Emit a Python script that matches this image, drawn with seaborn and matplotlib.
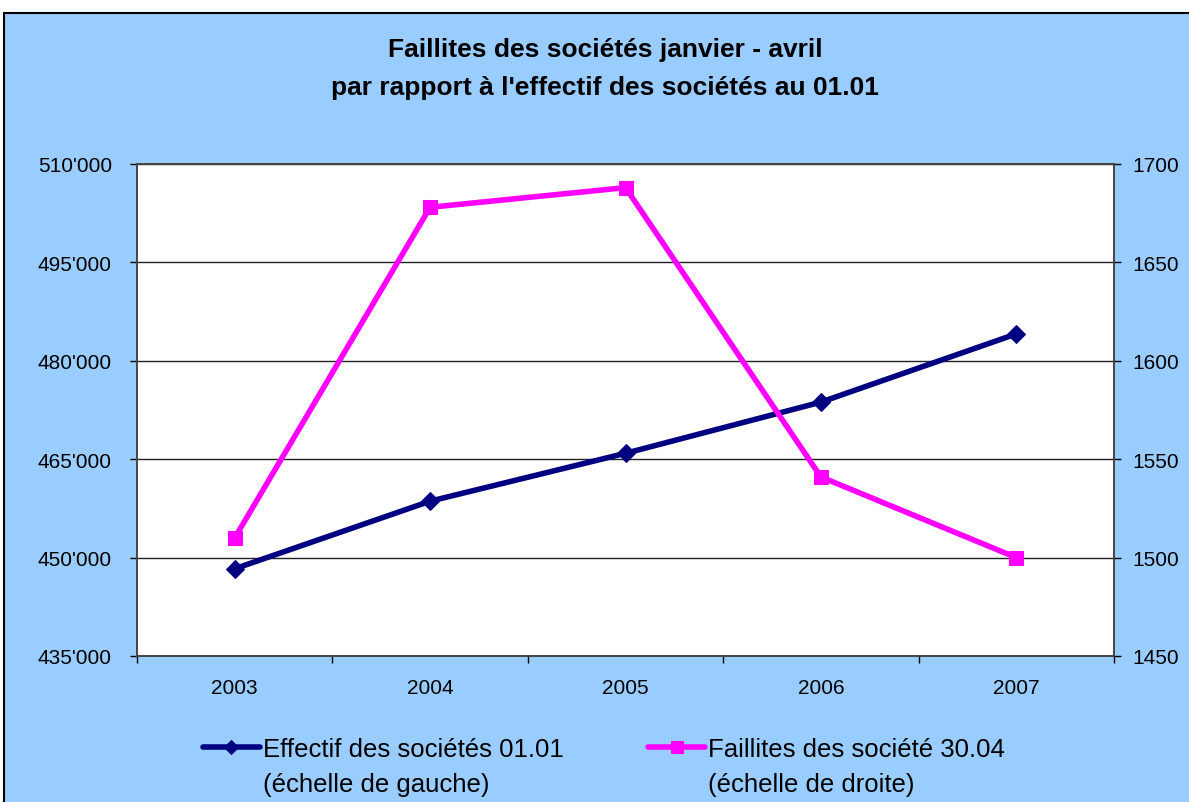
import pandas as pd
import matplotlib.pyplot as plt
import seaborn as sns
from matplotlib.patches import Rectangle
from matplotlib.ticker import FuncFormatter, FixedLocator

years = ["2003", "2004", "2005", "2006", "2007"]
effectif = [448300, 458600, 465900, 473700, 484100]
faillites = [1510, 1678, 1688, 1541, 1500]
labels_l1 = ["Effectif des sociétés 01.01", "Faillites des société 30.04"]
labels_l2 = ["(échelle de gauche)", "(échelle de droite)"]

df = pd.DataFrame({"annee": years, "effectif": effectif, "faillites": faillites})

sns.set_style("white")
plt.rcParams['font.family'] = ['Liberation Sans', 'DejaVu Sans']
plt.rcParams['text.color'] = 'black'
plt.rcParams['xtick.color'] = 'black'
plt.rcParams['ytick.color'] = 'black'

fig = plt.figure(figsize=(11.89, 8.03), dpi=100)
fig.patch.set_facecolor("white")
# blue panel behind everything, with black frame
fig.patches.append(Rectangle((4 / 1189, -0.01), 1.0, 1 - 14 / 803 + 0.01,
                             transform=fig.transFigure, facecolor="#99CCFF",
                             edgecolor="black", linewidth=1.5, zorder=-10))

ax = fig.add_axes([137 / 1189, 1 - 657 / 803, 977 / 1189, 492 / 803])
ax.set_facecolor("white")
x = list(range(len(years)))
df["x"] = x

sns.lineplot(data=df, x="x", y="effectif", ax=ax, color="#000080", linewidth=4,
             marker="D", markersize=9, markeredgecolor="#000080",
             label=labels_l1[0], legend=False)
ax2 = ax.twinx()
sns.lineplot(data=df, x="x", y="faillites", ax=ax2, color="#FF00FF", linewidth=4,
             marker="s", markersize=10, markeredgecolor="#FF00FF",
             label=labels_l1[1], legend=False)

ax.set_xlim(-0.5, 4.5)
ax.set_ylim(435000, 510000)
ax2.set_ylim(1450, 1700)
ax.set_yticks(range(435000, 510001, 15000))
ax2.set_yticks(range(1450, 1701, 50))
ax.yaxis.set_major_formatter(FuncFormatter(lambda v, p: f"{int(v):,}".replace(",", "'")))
ax.set_xticks(x)
ax.set_xticklabels(years)
ax.xaxis.set_minor_locator(FixedLocator([i - 0.5 for i in range(6)]))
ax.tick_params(axis="x", which="major", length=0, labelsize=15, pad=16)
ax.tick_params(axis="x", which="minor", length=5, width=1, direction="out", bottom=True)
ax.tick_params(axis="y", length=5, width=1, direction="out", left=True, labelsize=15, pad=13)
ax2.tick_params(axis="y", length=5, width=1, direction="out", right=True, labelsize=15, pad=8)
ax.grid(axis="y", color="#222222", linewidth=1)
ax.set_xlabel("")
ax.set_ylabel("")
ax2.set_ylabel("")
for a in (ax, ax2):
    for s in a.spines.values():
        s.set_color("#444444")
        s.set_linewidth(1.2)
ax2.grid(False)

fig.text(0.509, 1 - 50 / 803, "Faillites des sociétés janvier - avril", ha="center",
         va="center", fontsize=19, fontweight="bold")
fig.text(0.509, 1 - 88 / 803, "par rapport à l'effectif des sociétés au 01.01", ha="center",
         va="center", fontsize=19, fontweight="bold")

h1, l1 = ax.get_legend_handles_labels()
h2, l2 = ax2.get_legend_handles_labels()
leg = fig.legend(h1 + h2, l1 + l2, loc="center", bbox_to_anchor=(0.508, 1 - 750 / 803), ncol=2,
                 frameon=False, fontsize=18.5, handlelength=2.2, handletextpad=0.12,
                 columnspacing=3.3, markerscale=0.8)

# second line of each legend entry, aligned with the first line's text
fig.canvas.draw()
inv = fig.transFigure.inverted()
for t, extra in zip(leg.get_texts(), labels_l2):
    bb = t.get_window_extent()
    x0, _ = inv.transform((bb.x0, bb.y0))
    fig.text(x0, 1 - 785 / 803, extra, ha="left", va="center", fontsize=18.5)

fig.savefig("out.png", dpi=100)
